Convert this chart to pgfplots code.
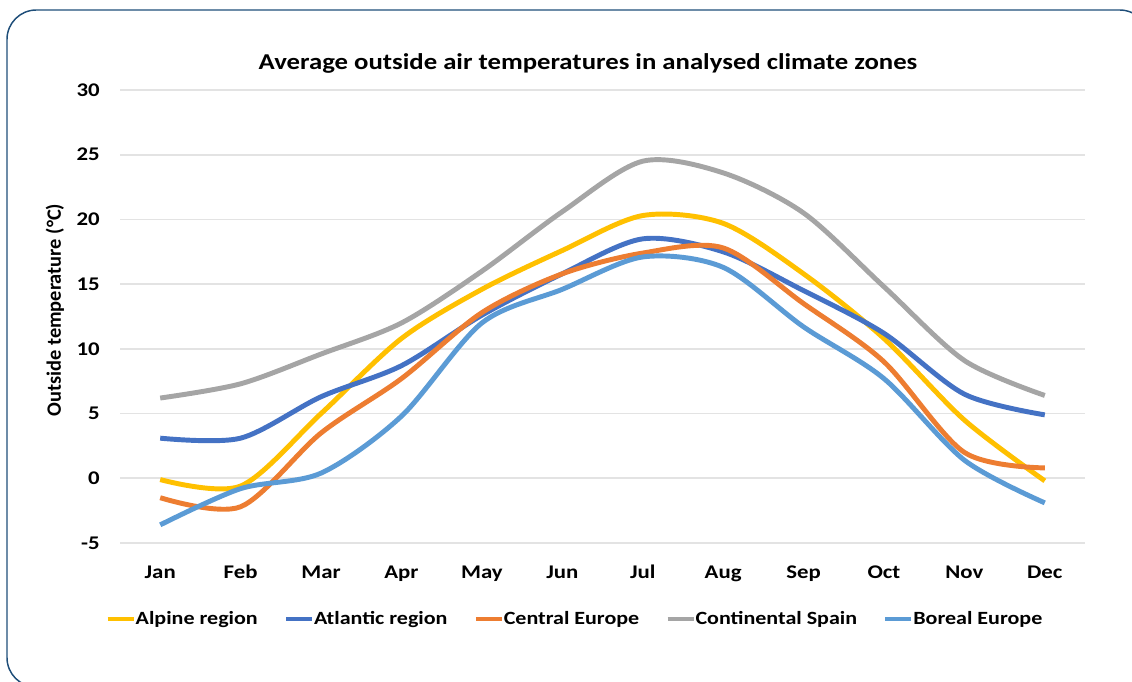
\documentclass[border=0pt]{standalone}
\usepackage{pgfplots}
\pgfplotsset{compat=1.18}
\usepackage{fontspec}
\setmainfont{Carlito}[FakeStretch=1.18]
\newfontfamily\ylabfont{Carlito}

\definecolor{alpine}{HTML}{FFC000}
\definecolor{atlantic}{HTML}{4472C4}
\definecolor{central}{HTML}{ED7D31}
\definecolor{continental}{HTML}{A5A5A5}
\definecolor{boreal}{HTML}{5B9BD5}
\definecolor{framecol}{HTML}{1F4E79}
\definecolor{gridcol}{HTML}{E3E3E3}

% monthly mean temperatures, columns: month index, value
\pgfplotstableread{
m  alp   atl   cen   con   bor
0  -0.1  3.1  -1.5   6.2  -3.6
1  -0.6  3.1  -2.2   7.3  -0.8
2   5.0  6.3   3.5   9.6   0.4
3  10.8  8.7   7.7  12.0   4.8
4  14.6 12.6  12.8  16.0  12.0
5  17.6 15.8  15.8  20.6  14.6
6  20.3 18.5  17.4  24.5  17.1
7  19.7 17.5  17.8  23.6  16.3
8  15.8 14.5  13.5  20.5  11.7
9  10.8 11.2   9.0  14.8   7.7
10  4.5  6.5   2.0   9.1   1.4
11 -0.2  4.9   0.8   6.4  -1.9
}\temps

\begin{document}
\begin{tikzpicture}
\useasboundingbox (0pt,0pt) rectangle (849pt,511.5pt);
\begin{scope}
  \clip (0pt,0pt) rectangle (849pt,511.5pt);
  \draw[framecol, line width=1.1pt, rounded corners=22pt] (5.25pt,504pt) rectangle (861.75pt,-3.75pt);
\end{scope}
\begin{axis}[
  at={(90pt,104.25pt)}, anchor=south west,
  scale only axis, width=723.75pt, height=339.75pt,
  xmin=-0.5, xmax=11.5, ymin=-5, ymax=30,
  xtick={0,...,11},
  xticklabels={Jan,Feb,Mar,Apr,May,Jun,Jul,Aug,Sep,Oct,Nov,Dec},
  ytick={-5,0,5,10,15,20,25,30},
  yticklabels={-5,0,5,10,15,20,25,30},
  axis line style={draw=none},
  major tick length=0pt,
  ymajorgrids, grid style={gridcol, line width=1.2pt},
  tick label style={font=\bfseries\fontsize{14.5}{17}\selectfont, text=black},
  xticklabel style={anchor=base, yshift=-27pt},
  yticklabel style={anchor=east, inner sep=0pt, xshift=-15pt},
  title={Average outside air temperatures in analysed climate zones},
  title style={font=\bfseries\fontsize{17}{20}\selectfont, anchor=base,
    at={(axis description cs:0.485,1.0265)}},
  ylabel={Outside temperature (°C)},
  ylabel style={font=\ylabfont\bfseries\fontsize{15.3}{18}\selectfont,
    at={(axis description cs:-0.0674,0.514)}, anchor=center},
  every axis plot/.append style={line width=3.7pt, smooth, tension=0.5, no markers},
  legend columns=5,
  legend style={draw=none, fill=none, at={(axis description cs:0.4705,-0.1678)}, anchor=center,
    font=\bfseries\fontsize{14}{17}\selectfont,
    nodes={inner sep=0pt},
    /tikz/every even column/.append style={column sep=19.7pt}},
  legend image code/.code={\draw[#1, line width=3pt] (0pt,0pt) -- (19.5pt,0pt);},
]
\addplot[alpine] table[x=m, y=alp] {\temps};
\addlegendentry{Alpine region}
\addplot[atlantic] table[x=m, y=atl] {\temps};
\addlegendentry{Atlantic region}
\addplot[central] table[x=m, y=cen] {\temps};
\addlegendentry{Central Europe}
\addplot[continental] table[x=m, y=con] {\temps};
\addlegendentry{Continental Spain}
\addplot[boreal] table[x=m, y=bor] {\temps};
\addlegendentry{Boreal Europe}
\end{axis}
\end{tikzpicture}
\end{document}
